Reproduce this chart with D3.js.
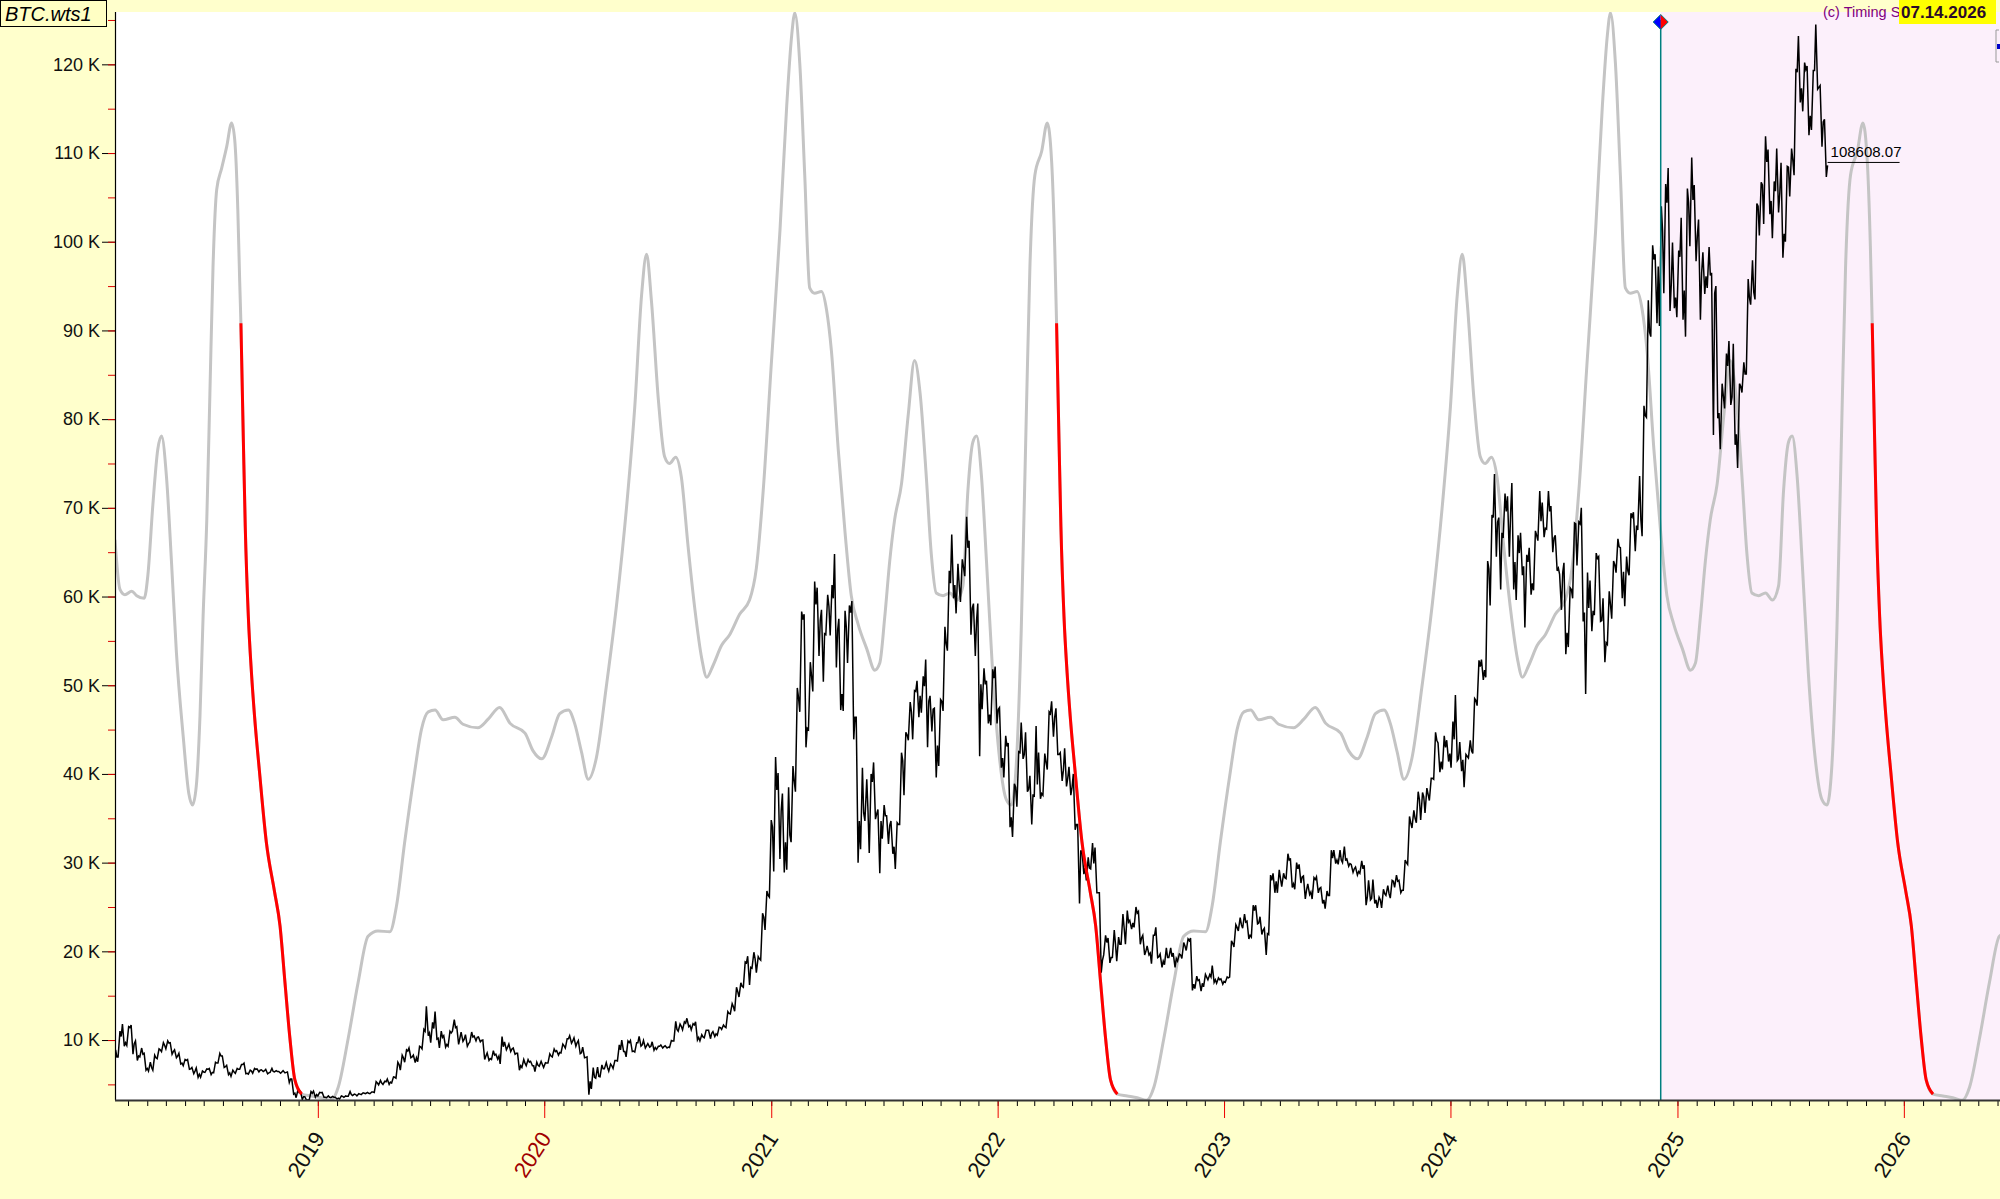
<!DOCTYPE html>
<html>
<head>
<meta charset="utf-8">
<script src="https://cdn.jsdelivr.net/npm/d3@7"></script>
<style>
  html, body { margin: 0; padding: 0; background: #ffffcc; }
  svg { display: block; font-family: "Liberation Sans", Arial, sans-serif; }
</style>
</head>
<body>
<svg id="chart" width="2000" height="1199"></svg>
<script>
// BTC weekly bars [high, low, close], one block per year, first Monday of each block below
const blockStarts = ["2018-02-05", "2019-01-07", "2020-01-06", "2021-01-04", "2022-01-03", "2023-01-02", "2024-01-01", "2025-01-06"];

const btc2018 = [
  [8900,6000,8100],[11000,8100,10400],[11800,9300,9700],[11500,9400,11400],[11700,8400,9600],[9900,7700,8200],
  [9100,8100,8400],[8500,6600,6800],[7500,6500,6900],[8300,6600,8000],[9000,7900,8900],[9700,8700,9400],
  [9900,9000,9650],[9700,8400,8700],[8900,8000,8200],[8500,7300,7400],[7800,7100,7700],[7800,6700,6750],
  [6900,6200,6500],[6850,5800,6150],[6500,5800,6400],[6750,6350,6700],[6800,6100,6350],[7500,6300,7400],
  [8500,7400,8200],[8200,6900,7000],[7150,6100,6300],[6600,5900,6400],[6800,6250,6700],[7250,6700,7250],
  [7400,6200,6250],[6600,6150,6500],[6800,6250,6700],[6750,6400,6600],[6650,6450,6550],[6700,6200,6300],
  [6800,6350,6450],[6550,6400,6450],[6450,6250,6400],[6550,6300,6350],[6400,5200,5600],[5600,3900,4000],
  [4400,3500,4100],[4200,3300,3600],[3600,3200,3250],[4200,3200,4000],[4250,3550,3850],[4100,3700,4050]
];
const btc2019 = [
  [4100,3550,3550],[3700,3500,3550],[3650,3500,3550],[3550,3350,3450],[3700,3350,3650],[3700,3550,3650],
  [4200,3650,3850],[3900,3750,3850],[3950,3700,3900],[4050,3850,4000],[4100,3950,4000],[4150,3950,4150],
  [5300,4100,5150],[5450,4950,5150],[5350,5000,5300],[5600,5000,5250],[5850,5150,5800],[7500,5700,7250],
  [8300,6600,8000],[8900,7500,8750],[9100,8000,8100],[8300,7450,8000],[9300,7550,9200],[11200,9000,11000],
  [13800,10500,10800],[12000,9700,11300],[13200,10100,10200],[11000,9100,10300],[10500,9200,9500],[11000,9300,10800],
  [12300,11000,11400],[11500,9500,10200],[10900,9850,10100],[10600,9300,9600],[10900,9750,10350],[10450,9900,10300],
  [10350,9800,9950],[10000,7800,8200],[8550,7700,7900],[8800,7800,8300],[8400,7850,8200],[10400,7300,9250],
  [9800,8900,9200],[9550,8700,9000],[9100,8400,8500],[8500,6600,7100],[7800,6900,7400],[7800,7100,7500],
  [7600,7100,7100],[7500,6450,7150],[7600,7050,7250],[7450,6900,7400]
];
const btc2020 = [
  [8450,7400,8200],[9000,8100,8700],[8800,8300,8600],[9550,8550,9350],[10150,9100,10150],[10500,9650,9900],
  [10250,9300,9700],[9950,8450,8550],[9200,8000,8050],[8100,3850,5350],[6900,4500,5800],[6950,5700,5900],
  [7200,5850,6750],[7450,6750,6900],[7300,6500,7100],[7700,6800,7700],[9450,7650,8900],[10000,8700,8700],
  [9900,8100,9700],[9950,8700,8750],[9700,8650,9700],[10400,9300,9450],[9950,9100,9350],[9600,9200,9300],
  [9800,8850,9150],[9300,8950,9300],[9450,9100,9250],[9350,9100,9200],[9950,9150,9900],[12100,9900,11200],
  [11800,11000,11550],[12050,11150,11900],[12450,11500,11650],[11850,11150,11700],[12050,10000,10300],[10600,9900,10350],
  [11100,10250,11100],[11100,10150,10750],[10950,10400,10700],[11450,10550,11400],[11700,11200,11500],[13200,11400,13000],
  [14100,12950,13750],[15950,13250,15450],[16450,14850,16050],[18800,15950,18700],[19450,16200,18200],[19900,18100,19150],
  [19400,17600,19150],[24300,19000,23850],[26800,22400,26300],[34800,26100,34000]
];
const btc2021 = [
  [41900,29000,38200],[40100,30400,35800],[37800,28900,32300],[38500,29200,33100],[40900,32300,39200],[49700,38000,48600],
  [58300,47000,57400],[58000,43000,45150],[52600,45000,51000],[61700,49300,59100],[61000,53300,57300],[58500,50400,55800],
  [60200,55700,58900],[61300,55600,59800],[64800,52000,56200],[57500,47200,49000],[58400,47100,56600],[59000,52500,58200],
  [59500,43900,46400],[46400,30000,34700],[40700,31500,35600],[39400,34700,35800],[40000,31100,39100],[41300,34900,35500],
  [36000,28800,34700],[36500,32700,35300],[35300,32100,34200],[34700,31000,31800],[34500,29300,34300],[42400,34300,41500],
  [44700,37600,44400],[48100,43800,47000],[49400,43900,49300],[50500,46400,48800],[51000,46900,49900],[52900,43000,48200],
  [48800,44800,47300],[47400,39600,43200],[48400,40900,48200],[56600,47100,54700],[62900,53900,61500],[67000,59800,61300],
  [63700,58100,61300],[64200,59400,63300],[69000,62300,65500],[66300,55700,58700],[59200,53300,57300],[59200,42000,50100],
  [51900,47300,50100],[50500,45700,46700],[51800,45500,50800],[52100,45700,47300]
];
const btc2022 = [
  [47500,40700,41800],[44300,39600,43100],[43500,34000,35100],[38900,32900,38500],[42500,36300,42400],[45800,41700,42200],
  [44700,38000,38300],[39800,34300,37700],[45400,37400,38800],[42400,37200,37800],[42300,37600,41300],[47000,40500,46800],
  [48200,44200,46400],[47400,42200,42200],[42400,39200,40400],[42900,38600,39500],[40800,37600,38500],[40000,33700,34300],
  [34300,25400,31300],[31300,28700,29400],[30600,28000,29400],[32200,29300,29900],[31700,26600,26600],[26600,17600,19000],
  [21800,19600,21000],[21500,18700,19300],[22400,19300,20800],[21600,18900,20800],[24200,20800,22600],[24600,20800,23300],
  [23500,22500,23200],[25000,22700,24300],[24500,20800,21500],[21800,19600,20000],[20600,19600,19800],[21800,18600,21800],
  [22700,19300,19400],[19700,18200,18900],[20400,18500,19300],[20400,19300,19400],[19800,18200,19200],[19700,18900,19600],
  [21000,19200,20600],[21400,20100,21200],[21500,15600,16300],[17200,15800,16700],[16800,15500,16400],[17400,16000,17100],
  [17400,16800,17100],[18400,16500,16800],[17000,16400,16800],[16900,16300,16600]
];
const btc2023 = [
  [17100,16500,17000],[21200,17100,20900],[23000,20500,22700],[23800,22300,23000],[24200,22600,23300],[23400,21400,21800],
  [25200,21600,24600],[25200,23100,23200],[23900,21900,22400],[22600,19600,22000],[28600,21900,28000],[28800,26600,27900],
  [29200,26600,28200],[28800,27300,28300],[31000,28200,30300],[30400,27200,27600],[30000,27000,29300],[29800,27700,28400],
  [28500,25900,26900],[27600,26400,26700],[28300,25900,28100],[28400,26600,27100],[27200,25400,25800],[26800,24800,26300],
  [31400,26300,30500],[31400,29900,30300],[31400,29800,30300],[31800,30000,30300],[30400,29600,29900],[29800,28900,29300],
  [29500,28600,29000],[30200,28800,29300],[29700,25200,26100],[28000,25800,26000],[28100,25400,25800],[26100,24900,25800],
  [27000,24900,26500],[27400,26300,26500],[28000,26000,27900],[28600,27200,27900],[28000,26600,26900],[30300,26900,30000],
  [35200,29800,34500],[35900,33900,35000],[38000,34500,37100],[37900,34800,37400],[38400,35600,37700],[39500,37000,39500],
  [44700,39400,43800],[43500,40200,41400],[44300,40500,43000],[43800,41400,42300]
];
const btc2024 = [
  [45900,40700,43900],[48900,41500,41700],[43600,40300,41600],[42200,38500,42000],[43800,41800,42600],[48500,42300,48300],
  [52800,47700,52100],[52900,50600,51700],[64000,50900,63100],[69200,59000,68900],[73800,64500,68400],[68900,60800,67200],
  [71600,66600,69600],[71300,64500,69400],[72800,60800,63900],[66900,59600,64900],[67200,62400,63400],[64700,56500,63900],
  [65500,60200,61500],[67400,60700,66900],[71900,66300,68500],[70600,66700,67700],[71900,67600,69600],[70200,65000,66600],
  [66900,62900,63200],[62500,58500,62700],[63800,53500,55900],[61000,54300,60800],[68300,59800,68200],[68400,63500,68200],
  [70000,57200,58200],[62700,49000,58700],[61800,56100,58400],[64900,57900,64300],[64500,57200,57300],[59800,52600,54800],
  [60600,54600,59100],[64000,57500,63600],[66500,62700,65600],[65500,59800,62800],[64500,58900,62900],[69400,62400,69000],
  [69500,65100,68000],[73600,67500,68700],[81500,66800,80400],[93400,80200,89800],[99600,89300,98000],[98600,90800,97200],
  [104000,90500,101200],[106500,94200,104400],[108300,92200,95100],[99900,92500,93700],[99000,91500,98300]
];
const btc2025 = [
  [102700,91200,94500],[106000,89300,104400],[109500,99500,104700],[106400,97800,100600],[102500,91200,96500],[98800,94100,96100],
  [99400,94800,96200],[96500,78200,94200],[95000,80100,80700],[84000,76600,82600],[87400,81200,86000],[88800,81600,82500],
  [88500,77100,78300],[84000,74500,83700],[86400,83000,85100],[95800,85100,93700],[97900,92900,94300],[104300,93500,104000],
  [106700,100700,106400],[111900,102000,109000],[110400,103100,104600],[106800,100400,105700],[110500,103300,105500],[108900,98200,100900],
  [108500,100000,108400],[110500,105100,109200],[119500,107500,119100],[123200,115700,117300],[120200,114700,119400],[119800,112000,114200],
  [119300,112600,119300],[124500,117200,117400],[117600,110700,113500],[113800,107300,108600]
];
const priceBlocks = [btc2018, btc2019, btc2020, btc2021, btc2022, btc2023, btc2024, btc2025];
const lastPriceLabel = "108608.07";

// cycle projection curve (grey)
const grayDates = [
  "2018-02-08","2018-02-16","2018-02-24","2018-03-07","2018-03-15","2018-03-27","2018-04-02","2018-04-10","2018-04-18","2018-04-24",
  "2018-05-02","2018-05-10","2018-05-18","2018-05-29","2018-06-07","2018-06-13","2018-06-19","2018-06-25","2018-06-30","2018-07-06",
  "2018-07-11","2018-07-16","2018-07-22","2018-07-30","2018-08-07","2018-08-15","2018-08-20","2018-08-25","2018-08-28","2018-08-30",
  "2018-09-03","2018-09-06","2018-09-11","2018-09-16","2018-09-21","2018-09-29","2018-10-10","2018-10-23","2018-11-01","2018-11-09",
  "2018-11-17","2018-11-25","2018-12-06","2018-12-22","2019-01-07","2019-01-22","2019-02-03","2019-02-19","2019-03-07","2019-03-23",
  "2019-04-08","2019-04-27","2019-05-08","2019-05-21","2019-06-06","2019-06-17","2019-06-28","2019-07-09","2019-07-22","2019-08-10",
  "2019-08-23","2019-09-16","2019-10-03","2019-10-21","2019-11-07","2019-12-01","2019-12-14","2019-12-28","2020-01-13","2020-01-26",
  "2020-02-09","2020-02-19","2020-03-01","2020-03-12","2020-03-25","2020-04-10","2020-04-27","2020-05-13","2020-05-26","2020-06-06",
  "2020-06-14","2020-06-22","2020-07-03","2020-07-13","2020-07-21","2020-07-31","2020-08-09","2020-08-20","2020-08-31","2020-09-11",
  "2020-09-19","2020-09-29","2020-10-13","2020-10-26","2020-11-11","2020-11-27","2020-12-08","2020-12-19","2021-01-01","2021-01-15",
  "2021-01-26","2021-02-03","2021-02-08","2021-02-16","2021-02-24","2021-03-04","2021-03-12","2021-03-23","2021-03-31","2021-04-08",
  "2021-04-19","2021-04-30","2021-05-10","2021-05-21","2021-06-04","2021-06-17","2021-06-25","2021-07-03","2021-07-11","2021-07-19",
  "2021-07-30","2021-08-10","2021-08-20","2021-08-29","2021-09-08","2021-09-16","2021-09-24","2021-10-05","2021-10-16","2021-10-27",
  "2021-11-06","2021-11-14","2021-11-22","2021-11-28","2021-12-06","2021-12-14","2021-12-24","2022-01-04","2022-01-15","2022-01-23",
  "2022-01-31","2022-02-08","2022-02-16","2022-02-22","2022-03-02","2022-03-13","2022-03-22","2022-03-29","2022-04-03","2022-04-06",
  "2022-04-10","2022-04-13","2022-04-18","2022-04-23","2022-04-28","2022-05-06","2022-05-17","2022-05-30","2022-06-08","2022-06-16",
  "2022-06-24","2022-07-02","2022-07-13","2022-07-29","2022-08-14","2022-08-29","2022-09-10","2022-09-26","2022-10-12","2022-10-28",
  "2022-11-13","2022-12-02","2022-12-13","2022-12-26","2023-01-11","2023-01-22","2023-02-02","2023-02-13","2023-02-26","2023-03-17",
  "2023-03-30","2023-04-23","2023-05-10","2023-05-28","2023-06-14","2023-07-08","2023-07-21","2023-08-04","2023-08-20","2023-09-02",
  "2023-09-16","2023-09-26","2023-10-07","2023-10-18","2023-10-31","2023-11-16","2023-12-03","2023-12-19","2024-01-01","2024-01-12",
  "2024-01-20","2024-01-28","2024-02-08","2024-02-18","2024-02-26","2024-03-07","2024-03-16","2024-03-27","2024-04-07","2024-04-18",
  "2024-04-26","2024-05-06","2024-05-20","2024-06-02","2024-06-18","2024-07-04","2024-07-15","2024-07-26","2024-08-08","2024-08-22",
  "2024-09-02","2024-09-10","2024-09-15","2024-09-23","2024-10-01","2024-10-09","2024-10-17","2024-10-28","2024-11-05","2024-11-13",
  "2024-11-24","2024-12-05","2024-12-15","2024-12-26","2025-01-09","2025-01-22","2025-01-30","2025-02-07","2025-02-15","2025-02-23",
  "2025-03-06","2025-03-17","2025-03-27","2025-04-05","2025-04-15","2025-04-23","2025-05-01","2025-05-12","2025-05-23","2025-06-03",
  "2025-06-13","2025-06-21","2025-06-29","2025-07-05","2025-07-13","2025-07-21","2025-07-31","2025-08-11","2025-08-22","2025-08-30",
  "2025-09-07","2025-09-15","2025-09-23","2025-09-29","2025-10-07","2025-10-18","2025-10-27","2025-11-03","2025-11-08","2025-11-11",
  "2025-11-15","2025-11-18","2025-11-23","2025-11-28","2025-12-03","2025-12-11","2025-12-22","2026-01-04","2026-01-13","2026-01-21",
  "2026-01-29","2026-02-06","2026-02-17","2026-03-05","2026-03-21","2026-04-05","2026-04-17","2026-05-03","2026-05-19","2026-06-04",
  "2026-06-20"
];
const grayValues = [
  66400,60800,60200,60600,60100,59800,62400,70300,76600,78100,
  73500,64000,53700,44200,37800,36500,38600,46500,57700,68700,
  82900,97100,105900,108300,110700,113400,111500,103600,95600,90800,
  77400,67900,57700,51400,46500,40200,32300,26800,22900,16500,
  10200,5500,3900,3700,3500,3200,4700,10200,16500,21700,
  22300,22200,25200,32300,40200,45000,47000,47200,46100,46400,
  45600,45200,46200,47500,45700,44600,42600,41700,44200,46800,
  47200,45700,42500,39400,41800,49800,59300,70300,81400,94000,
  98600,93200,82200,75800,75000,75700,73500,65600,58500,53000,
  50900,52200,54500,55700,58000,59600,63200,71900,86100,101200,
  115400,123300,125800,120100,107500,94800,94200,94400,92400,87700,
  76600,67200,60100,56900,54100,51700,52500,57700,64000,68700,
  72700,80600,86600,82900,73500,64800,60400,60100,60400,59600,
  61200,71900,77400,78100,73500,64000,51400,41800,37100,36500,
  41000,56100,79800,97100,107500,110200,113400,109100,99500,90800,
  77400,67900,57700,51400,46500,40200,32300,26800,22900,16500,
  10200,5500,3900,3700,3500,3200,4700,10200,16500,21700,
  22300,22200,25200,32300,40200,45000,47000,47200,46100,46400,
  45600,45200,46200,47500,45700,44600,42600,41700,44200,46800,
  47200,45700,42500,39400,41800,49800,59300,70300,81400,94000,
  98600,93200,82200,75800,75000,75700,73500,65600,58500,53000,
  50900,52200,54500,55700,58000,59600,63200,71900,86100,101200,
  115400,123300,125800,120100,107500,94800,94200,94400,92400,87700,
  76600,67200,60100,56900,54100,51700,52500,57700,64000,68700,
  72700,80600,86600,82900,73500,64800,60400,60100,60400,59600,
  61200,71900,77400,78100,73500,64000,51400,41800,37100,36500,
  41000,56100,79800,97100,107500,110200,113400,109100,99500,90800,
  77400,67900,57700,51400,46500,40200,32300,26800,22900,16500,
  10200,5500,3900,3700,3500,3200,4700,10200,16500,21700,
  22300
];
// stretches of the curve drawn in red
const redSpans = [["2018-08-30", "2018-12-06"], ["2022-04-06", "2022-07-13"], ["2025-11-11", "2026-02-17"]];

const yearTicks = ["2019", "2020", "2021", "2022", "2023", "2024", "2025", "2026"];
const yMajor = [10000, 20000, 30000, 40000, 50000, 60000, 70000, 80000, 90000, 100000, 110000, 120000];
const yMinor = [5000, 15000, 25000, 35000, 45000, 55000, 65000, 75000, 85000, 95000, 105000, 115000, 125000];
const viewRange = ["2018-02-08", "2026-06-05"];
const priceRange = [3240, 125900];
const markerDate = "2024-12-05";
const chartTitle = "BTC.wts1";
const stampText = "(c) Timing S";
const stampDate = "07.14.2026";

// ---------------------------------------------------------------
const parse = d3.timeParse("%Y-%m-%d");
const M = { left: 115, top: 12, right: 2000, bottom: 1100 };
const svg = d3.select("#chart");

const x = d3.scaleTime().domain(viewRange.map(parse)).range([M.left, M.right]);
const y = d3.scaleLinear().domain(priceRange).range([M.bottom, M.top]);

// background
svg.append("rect").attr("width", 2000).attr("height", 1199).attr("fill", "#ffffcc");
svg.append("rect").attr("x", M.left).attr("y", M.top)
  .attr("width", M.right - M.left).attr("height", M.bottom - M.top).attr("fill", "#ffffff");
const xMark = x(parse(markerDate));
svg.append("rect").attr("x", xMark).attr("y", M.top)
  .attr("width", M.right - xMark).attr("height", M.bottom - M.top).attr("fill", "#fcf0fb");

svg.append("clipPath").attr("id", "plot-clip").append("rect")
  .attr("x", M.left).attr("y", M.top).attr("width", M.right - M.left).attr("height", M.bottom - M.top);
const plot = svg.append("g").attr("clip-path", "url(#plot-clip)");

// price weeks -> zigzag path through low/high/close
const weeks = [];
priceBlocks.forEach((rows, b) => {
  const start = parse(blockStarts[b]);
  rows.forEach((r, i) => weeks.push({ date: d3.timeDay.offset(start, 7 * i), hi: r[0], lo: r[1], close: r[2] }));
});
const pricePts = [];
let prevClose = weeks[0].lo;
weeks.forEach(w => {
  const up = w.close >= prevClose;
  pricePts.push([d3.timeDay.offset(w.date, 1), up ? w.lo : w.hi]);
  pricePts.push([d3.timeDay.offset(w.date, 4), up ? w.hi : w.lo]);
  pricePts.push([d3.timeDay.offset(w.date, 6), w.close]);
  prevClose = w.close;
});

const gray = grayDates.map((d, i) => ({ date: parse(d), v: grayValues[i] }));
const curveLine = d3.line().x(d => x(d.date)).y(d => y(d.v)).curve(d3.curveMonotoneX);

plot.append("path").datum(gray).attr("d", curveLine)
  .attr("fill", "none").attr("stroke", "#c4c4c4").attr("stroke-width", 3).attr("stroke-linejoin", "round");

plot.append("path").datum(pricePts)
  .attr("d", d3.line().x(d => x(d[0])).y(d => y(d[1])))
  .attr("fill", "none").attr("stroke", "#000").attr("stroke-width", 1.5);

redSpans.forEach(([a, b]) => {
  const t0 = parse(a), t1 = parse(b);
  plot.append("path").datum(gray.filter(d => d.date >= t0 && d.date <= t1)).attr("d", curveLine)
    .attr("fill", "none").attr("stroke", "#ff0000").attr("stroke-width", 3).attr("stroke-linejoin", "round");
});

// vertical marker
svg.append("line").attr("x1", xMark).attr("x2", xMark).attr("y1", M.top + 8).attr("y2", M.bottom)
  .attr("stroke", "#007f7f").attr("stroke-width", 1.5);
const dy0 = 22, r0 = 7.5;
svg.append("path").attr("d", `M${xMark},${dy0 - r0}L${xMark - r0},${dy0}L${xMark},${dy0 + r0}Z`).attr("fill", "#0000ff");
svg.append("path").attr("d", `M${xMark},${dy0 - r0}L${xMark + r0},${dy0}L${xMark},${dy0 + r0}Z`).attr("fill", "#ff0000");
svg.append("path").attr("d", `M${xMark},${dy0 - r0}L${xMark + r0},${dy0}L${xMark},${dy0 + r0}L${xMark - r0},${dy0}Z`)
  .attr("fill", "none").attr("stroke", "#007f7f").attr("stroke-width", 1);

// last price label
const last = pricePts[pricePts.length - 1];
const lx = x(last[0]), ly = y(last[1]) - 3;
svg.append("line").attr("x1", lx).attr("x2", lx + 72).attr("y1", ly).attr("y2", ly).attr("stroke", "#000").attr("stroke-width", 1);
svg.append("text").attr("x", lx + 3).attr("y", ly - 5).attr("font-size", 15).attr("fill", "#000").text(lastPriceLabel);

// y axis
const yMinorAxis = svg.append("g").attr("transform", `translate(${M.left},0)`)
  .call(d3.axisLeft(y).tickValues(yMinor).tickSize(7).tickFormat(""));
yMinorAxis.select(".domain").remove();
yMinorAxis.selectAll(".tick line").attr("stroke", "#dd0000");

const yMajorAxis = svg.append("g").attr("transform", `translate(${M.left},0)`)
  .call(d3.axisLeft(y).tickValues(yMajor).tickSize(13).tickPadding(2).tickFormat(d => d / 1000 + " K"));
yMajorAxis.select(".domain").remove();
yMajorAxis.selectAll(".tick line").attr("stroke", "#000");
yMajorAxis.selectAll(".tick").append("line").attr("x1", -7).attr("x2", 0).attr("stroke", "#dd0000");
yMajorAxis.selectAll(".tick text").attr("font-size", 18).attr("fill", "#111")
  .attr("font-family", "'Liberation Sans', Arial, sans-serif");

svg.append("line").attr("x1", M.left + 0.5).attr("x2", M.left + 0.5).attr("y1", M.top).attr("y2", M.bottom)
  .attr("stroke", "#000").attr("stroke-width", 1.2);

// x axis
const monthAxis = svg.append("g").attr("transform", `translate(0,${M.bottom})`)
  .call(d3.axisBottom(x).ticks(d3.timeMonth.every(1)).tickSize(6).tickFormat(""));
monthAxis.select(".domain").remove();
monthAxis.selectAll(".tick line").attr("stroke", "#000");

const yearAxis = svg.append("g").attr("transform", `translate(0,${M.bottom})`)
  .call(d3.axisBottom(x).tickValues(yearTicks.map(s => parse(s + "-01-01"))).tickSize(18).tickFormat(d3.timeFormat("%Y")));
yearAxis.select(".domain").remove();
yearAxis.selectAll(".tick line").attr("stroke", "#ee0000");
yearAxis.selectAll(".tick text")
  .attr("x", 0).attr("y", 0).attr("dy", "0.35em")
  .attr("transform", "translate(1,34) rotate(-57)")
  .attr("text-anchor", "end").attr("font-size", 22)
  .attr("font-family", "'Liberation Sans', Arial, sans-serif")
  .attr("fill", d => d.getFullYear() === 2020 ? "#a00000" : "#111");

svg.append("line").attr("x1", M.left).attr("x2", M.right).attr("y1", M.bottom + 0.5).attr("y2", M.bottom + 0.5)
  .attr("stroke", "#333").attr("stroke-width", 2);

// title box
svg.append("rect").attr("x", 0.5).attr("y", 0.5).attr("width", 106).attr("height", 26)
  .attr("fill", "#ffffc4").attr("stroke", "#000").attr("stroke-width", 1);
svg.append("text").attr("x", 5).attr("y", 21).attr("font-size", 20).attr("font-style", "italic")
  .attr("fill", "#000").text(chartTitle);

// top-right stamp
svg.append("text").attr("x", 1823).attr("y", 17).attr("font-size", 14.5).attr("fill", "#800080").text(stampText);
svg.append("rect").attr("x", 1899).attr("y", 0).attr("width", 97).attr("height", 24).attr("fill", "#ffff00");
svg.append("text").attr("x", 1901).attr("y", 18).attr("font-size", 17).attr("font-weight", "bold")
  .attr("fill", "#2a0a2a").text(stampDate);
svg.append("path").attr("d", "M1999,30H1996V62H1999").attr("fill", "none").attr("stroke", "#999");
svg.append("rect").attr("x", 1997).attr("y", 44).attr("width", 3).attr("height", 5).attr("fill", "#0000cc");
</script>
</body>
</html>
